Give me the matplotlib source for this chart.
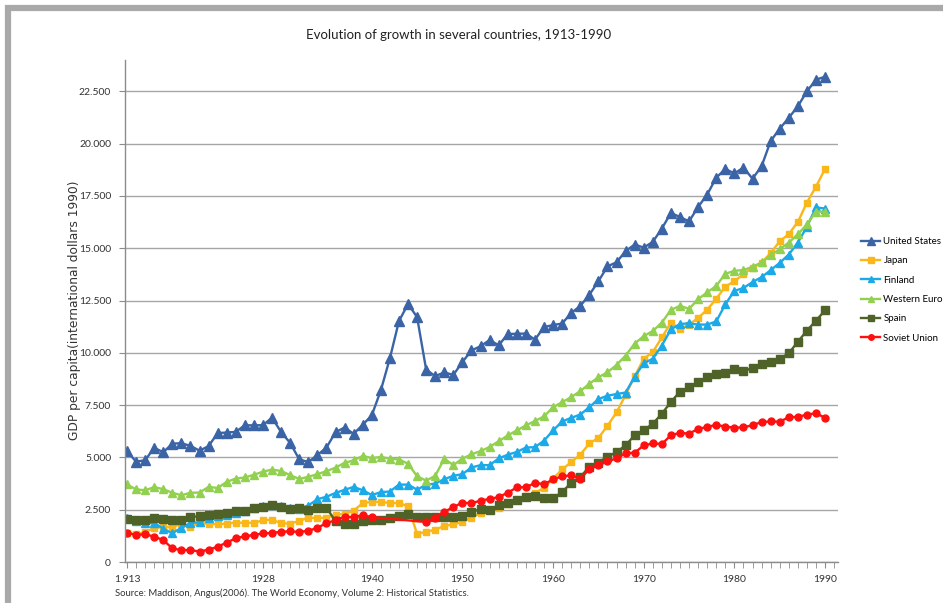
import matplotlib
matplotlib.use("Agg")
import matplotlib.pyplot as plt
from matplotlib.ticker import FuncFormatter, MultipleLocator, FixedLocator
from matplotlib.patches import Rectangle

# GDP per capita, 1990 international dollars
years = list(range(1913, 1991))

united_states = [
    5301, 4799, 4864, 5459, 5248, 5659, 5680, 5552, 5323, 5540,
    6164, 6190, 6221, 6539, 6531, 6543, 6899, 6213, 5691, 4908,
    4777, 5114, 5467, 6204, 6430, 6126, 6561, 7010, 8206, 9741,
    11518, 12333, 11709, 9197, 8886, 9065, 8944, 9561, 10116, 10316,
    10613, 10359, 10897, 10914, 10920, 10631, 11230, 11328, 11402, 11905,
    12242, 12773, 13419, 14134, 14330, 14863, 15179, 15030, 15304, 15944,
    16689, 16491, 16284, 16975, 17567, 18373, 18789, 18577, 18856, 18325,
    18920, 20123, 20717, 21236, 21788, 22499, 23059, 23201,
]

japan = [
    1387, 1327, 1430, 1630, 1665, 1668, 1827, 1696, 1860, 1831,
    1809, 1836, 1885, 1872, 1870, 1992, 2026, 1850, 1837, 1962,
    2122, 2098, 2120, 2244, 2315, 2449, 2816, 2874, 2873, 2818,
    2822, 2659, 1346, 1444, 1541, 1725, 1800, 1921, 2126, 2336,
    2474, 2582, 2771, 2948, 3136, 3289, 3554, 3986, 4426, 4777,
    5129, 5668, 5934, 6506, 7152, 7983, 8874, 9714, 10040, 10734,
    11434, 11145, 11344, 11669, 12064, 12585, 13163, 13428, 13754, 14078,
    14307, 14773, 15331, 15679, 16251, 17185, 17943, 18789,
]

finland = [
    2110, 1940, 1850, 1870, 1590, 1370, 1640, 1860, 1900, 2080,
    2200, 2260, 2340, 2420, 2570, 2700, 2740, 2670, 2570, 2550,
    2700, 3000, 3120, 3300, 3450, 3590, 3430, 3200, 3340, 3370,
    3700, 3700, 3460, 3690, 3750, 3960, 4120, 4200, 4520, 4630,
    4630, 4950, 5130, 5260, 5470, 5490, 5800, 6290, 6720, 6890,
    7050, 7400, 7790, 7950, 8030, 8100, 8860, 9500, 9720, 10350,
    11120, 11380, 11410, 11350, 11350, 11500, 12320, 12960, 13100, 13380,
    13620, 13950, 14300, 14700, 15270, 16030, 16950, 16900,
]

western_europe = [
    3710, 3470, 3430, 3580, 3480, 3310, 3190, 3310, 3320, 3590,
    3540, 3830, 3990, 4040, 4170, 4320, 4420, 4350, 4150, 3970,
    4070, 4200, 4340, 4510, 4740, 4860, 5070, 4970, 5020, 4940,
    4900, 4700, 4100, 3890, 4120, 4940, 4630, 4940, 5150, 5300,
    5500, 5770, 6050, 6290, 6530, 6740, 6960, 7400, 7640, 7880,
    8170, 8520, 8830, 9070, 9420, 9870, 10440, 10800, 11040, 11450,
    12050, 12250, 12100, 12570, 12890, 13200, 13780, 13920, 13960, 14110,
    14320, 14670, 14950, 15270, 15670, 16140, 16750, 16750,
]

spain = [
    2050, 2000, 2020, 2090, 2060, 2020, 2030, 2150, 2190, 2250,
    2280, 2340, 2420, 2450, 2580, 2620, 2740, 2630, 2520, 2570,
    2500, 2560, 2600, 1950, 1800, 1800, 1950, 2030, 2020, 2120,
    2180, 2300, 2170, 2150, 2150, 2170, 2150, 2180, 2400, 2520,
    2480, 2710, 2800, 2960, 3110, 3150, 3060, 3040, 3350, 3780,
    4070, 4540, 4750, 5040, 5250, 5580, 6060, 6300, 6610, 7090,
    7650, 8150, 8350, 8590, 8830, 8990, 9020, 9210, 9120, 9280,
    9470, 9550, 9710, 9980, 10530, 11060, 11540, 12030,
]

# no figures for the war years 1941-1945
soviet_union = [
    1400, 1290, 1330, 1210, 1050, 650, 570, 570, 500, 590,
    730, 930, 1130, 1230, 1290, 1370, 1386, 1448, 1462, 1439,
    1493, 1630, 1864, 1991, 2156, 2150, 2237, 2144, None, None,
    None, None, None, 1913, 2126, 2402, 2623, 2841, 2805, 2937,
    3013, 3106, 3313, 3566, 3576, 3777, 3724, 3945, 4098, 4140,
    3985, 4439, 4626, 4806, 4952, 5202, 5225, 5575, 5667, 5643,
    6059, 6176, 6136, 6363, 6454, 6559, 6472, 6426, 6432, 6546,
    6690, 6720, 6708, 6921, 6943, 7042, 7112, 6894,
]

labels = ["United States", "Japan", "Finland", "Western Europe", "Spain", "Soviet Union"]
series = [united_states, japan, finland, western_europe, spain, soviet_union]
colors = ["#3B64A6", "#F9B71A", "#1BA9E8", "#92D050", "#4F6228", "#FF1010"]
markers = ["^", "s", "^", "^", "s", "o"]
msizes = [6.5, 5, 5.5, 5.5, 5.5, 5]

label_years = [1913, 1928, 1940, 1950, 1960, 1970, 1980, 1990]

plt.rcParams["font.family"] = ["Lato", "DejaVu Sans"]

fig = plt.figure(figsize=(9.43, 6.03), dpi=100)
fig.patch.set_facecolor("white")

# grey frame around the chart (only top and left edges fall inside the canvas)
fig.patches.append(Rectangle((8 / 943, -0.2), 1.3, 1.2 - 8 / 603,
                             transform=fig.transFigure, fill=False,
                             edgecolor="#A9A9A9", linewidth=4.5))

ax = fig.add_axes([125 / 943, 1 - 562 / 603, (838 - 125) / 943, (562 - 60) / 603])

for vals, name, c, m, ms in zip(series, labels, colors, markers, msizes):
    xs = [y for y, v in zip(years, vals) if v is not None]
    ys = [v for v in vals if v is not None]
    ax.plot(xs, ys, color=c, marker=m, markersize=ms, linewidth=1.7,
            markeredgecolor=c, label=name)

ax.set_xlim(1912.78, 1991.43)
ax.set_ylim(0, 24000)

ax.yaxis.set_major_locator(MultipleLocator(2500))
ax.yaxis.set_major_formatter(FuncFormatter(lambda v, p: f"{int(v):,}".replace(",", ".")))
ax.xaxis.set_major_locator(FixedLocator(label_years))
ax.xaxis.set_minor_locator(MultipleLocator(1))
ax.xaxis.set_major_formatter(FuncFormatter(
    lambda v, p: "1.913" if int(v) == 1913 else str(int(v))))

ax.grid(axis="y", color="#A6A6A6", linewidth=1.0)
ax.set_axisbelow(True)
for s in ["top", "right"]:
    ax.spines[s].set_visible(False)
for s in ["left", "bottom"]:
    ax.spines[s].set_color("#8C8C8C")
    ax.spines[s].set_linewidth(1.0)

ax.tick_params(axis="y", length=4, color="#8C8C8C", labelsize=7.5, pad=6, labelcolor="#333333")
ax.tick_params(axis="x", which="both", length=4, color="#8C8C8C", direction="out")
ax.tick_params(axis="x", labelsize=7.5, pad=5, labelcolor="#333333")

fig.text(459 / 943, 1 - 35 / 603, "Evolution of growth in several countries, 1913-1990",
         ha="center", va="center", fontsize=9.5, color="#222222")
fig.text(75 / 943, 1 - 310 / 603, "GDP per capita(international dollars 1990)",
         rotation=90, ha="center", va="center", fontsize=8.8,
         family=["DejaVu Sans"], color="#333333")
fig.text(115 / 943, 1 - 593 / 603,
         "Source: Maddison, Angus(2006). The World Economy, Volume 2: Historical Statistics.",
         ha="left", va="center", fontsize=6.8, color="#333333")

fig.legend(loc="upper left", bbox_to_anchor=(861 / 943, 1 - 237 / 603),
           frameon=False, fontsize=7, handlelength=2.0, handletextpad=0.3,
           labelspacing=1.06, borderpad=0, borderaxespad=0, markerscale=0.8)

fig.savefig("out.png", dpi=100)
